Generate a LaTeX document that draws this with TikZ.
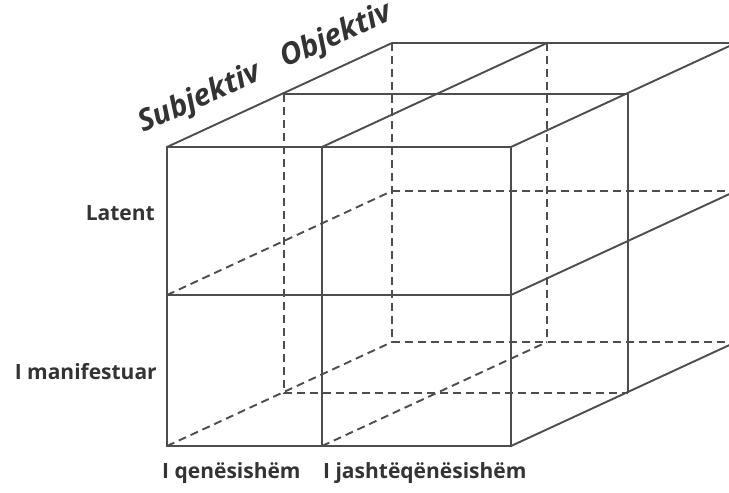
\documentclass[tikz,border=0pt]{standalone}
\usepackage{fontspec}
\setmainfont{Open Sans}
\usetikzlibrary{calc}

\definecolor{edge}{HTML}{4D4D4D}
\definecolor{ink}{HTML}{333333}

\tikzset{
	solidedge/.style={edge, line width=1.9pt},
	hiddenedge/.style={edge, line width=1.9pt, dash pattern=on 8pt off 5pt},
	lbl/.style={ink, font=\fontsize{21}{25}\selectfont\bfseries, inner sep=0pt},
	lblit/.style={lbl, font=\fontsize{30}{34}\selectfont\bfseries\itshape, rotate=24, anchor=base west}
}

\begin{document}
\begin{tikzpicture}[x=1pt, y=-1pt]
	\useasboundingbox (0,0) rectangle (729,493);
	\clip (0,0) rectangle (729,493);
	% corners: column (l,d,r), row (t,m,b), depth (0,1,2)
	\foreach \c/\x in {l/167, d/322, r/511}
		\foreach \r/\y in {t/147, m/295, b/446} {
			\coordinate (\c\r0) at (\x, \y);
			\coordinate (\c\r1) at (\x+117, \y-53);
			\coordinate (\c\r2) at (\x+225, \y-104);
		}
	% hidden edges
	\draw[hiddenedge] (lt1) -- (lb1) -- (rb1);
	\draw[hiddenedge] (lt2) -- (lb2) -- (rb2);
	\draw[hiddenedge] (dt2) -- (db2);
	\draw[hiddenedge] (lm2) -- (rm2);
	\draw[hiddenedge] (lm0) -- (lm2);
	\draw[hiddenedge] (lb0) -- (lb2);
	\draw[hiddenedge] (db0) -- (db2);
	% visible edges
	\draw[solidedge] (lt0) -- (rt0) -- (rb0) -- (lb0) -- cycle;
	\draw[solidedge] (lm0) -- (rm0);
	\draw[solidedge] (dt0) -- (db0);
	\draw[solidedge] (lt0) -- (lt2);
	\draw[solidedge] (dt0) -- (dt2);
	\draw[solidedge] (rt0) -- (rt2);
	\draw[solidedge] (lt1) -- (rt1);
	\draw[solidedge] (lt2) -- (rt2);
	\draw[solidedge] (rm0) -- (rm2);
	\draw[solidedge] (rb0) -- (rb2);
	\draw[solidedge] (rt1) -- (rb1);
	% labels
	\node[lblit] (subj) at (143,133) {Subjektiv};
	\node[lblit] (obj) at (285,68) {Objektiv};
	\node[lbl, anchor=base east] (latent) at (155,220) {Latent};
	\node[lbl, anchor=base east] (manifest) at (157,379) {I manifestuar};
	\node[lbl, anchor=base west] (qenes) at (162,478) {I qenësishëm};
	\node[lbl, anchor=base west] (jasht) at (323,478) {I jashtëqënësishëm};
\end{tikzpicture}
\end{document}
